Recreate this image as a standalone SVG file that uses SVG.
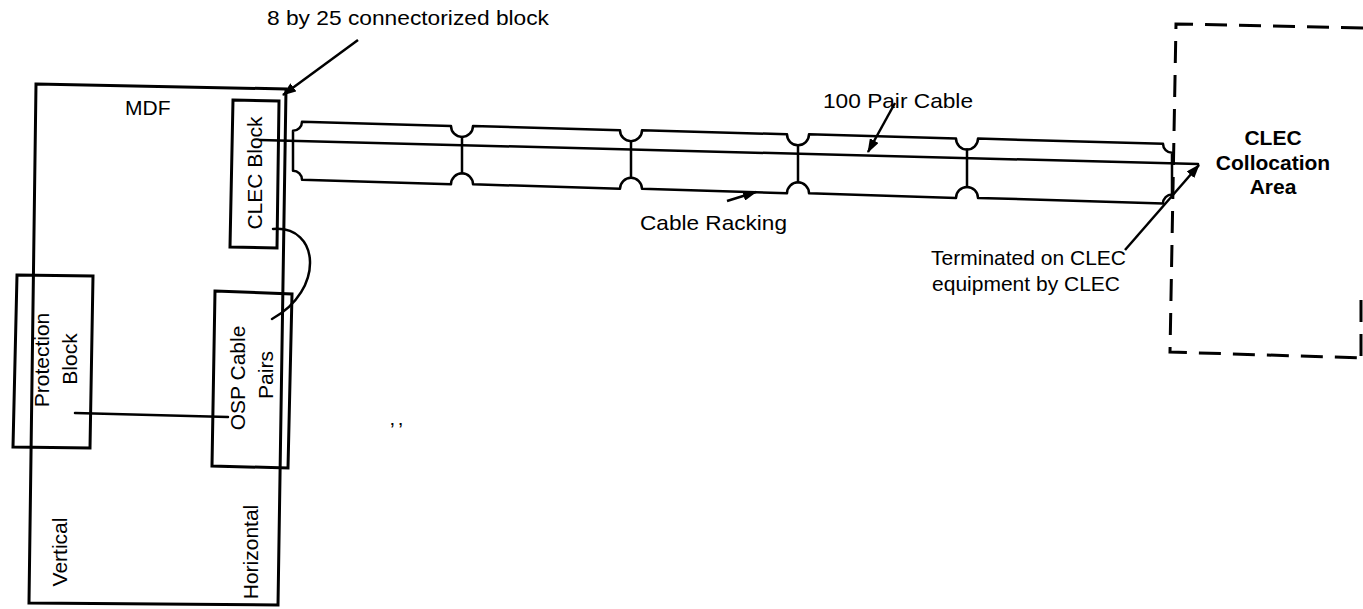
<svg xmlns="http://www.w3.org/2000/svg" width="1363" height="609" viewBox="0 0 1363 609">
<defs>
<marker id="ah" viewBox="0 0 14 10" refX="13" refY="5" markerWidth="14" markerHeight="10" markerUnits="userSpaceOnUse" orient="auto">
<path d="M0,0 L14,5 L0,10 Z" fill="#000"/>
</marker>
<style>
.ln{fill:none;stroke:#000;stroke-width:2.5;stroke-linejoin:round;stroke-linecap:round}
.box{fill:none;stroke:#000;stroke-width:3}
.dash{fill:none;stroke:#000;stroke-width:3;stroke-dasharray:22 12}
.t{font-family:"Liberation Sans",Arial,sans-serif;font-size:21px;fill:#000}
.tb{font-family:"Liberation Sans",Arial,sans-serif;font-size:21px;font-weight:bold;fill:#000}
.arr{fill:none;stroke:#000;stroke-width:2.5;marker-end:url(#ah)}
</style>
</defs>
<rect width="1363" height="609" fill="#fff"/>

<g id="mdf">
<polygon class="box" points="36,84 286,89 278,605 29,603"/>
<text class="t" x="125" y="115" font-size="22">MDF</text>
<text class="t" transform="translate(67,552) rotate(-90)" text-anchor="middle">Vertical</text>
<text class="t" transform="translate(258,552) rotate(-90)" text-anchor="middle">Horizontal</text>
</g>

<g id="clec-block">
<polygon class="box" points="233,100 279,101 277,248 230,247"/>
<text class="t" transform="translate(262,173) rotate(-90)" text-anchor="middle">CLEC Block</text>
</g>

<g id="protection-block">
<polygon class="box" points="17,275 93,276 90,448 13,447"/>
<text class="t" transform="translate(49,360) rotate(-90)" text-anchor="middle">Protection</text>
<text class="t" transform="translate(77,359) rotate(-90)" text-anchor="middle">Block</text>
</g>

<g id="osp-cable-pairs">
<polygon class="box" points="215,291 292,294 288,468 212,466"/>
<text class="t" transform="translate(245,378) rotate(-90)" text-anchor="middle">OSP Cable</text>
<text class="t" transform="translate(273,375) rotate(-90)" text-anchor="middle">Pairs</text>
</g>

<g id="cable-racking">
<path class="ln" d="M293,130.7 A9,9 0 0 0 302,121.7 L451,125.9 A11,11 0 0 0 473,125.9 L620,130.2 A11,11 0 0 0 642,130.2 L787,134.3 A11,11 0 0 0 809,134.3 L956,138.6 A11,11 0 0 0 978,138.6 L1163,143.7 A9,9 0 0 0 1172,152.7 L1172,194.4 A9,9 0 0 0 1163,203.4 L978,197.9 A11,11 0 0 0 956,197.9 L809,193.3 A11,11 0 0 0 787,193.3 L642,188.8 A11,11 0 0 0 620,188.8 L473,184.3 A11,11 0 0 0 451,184.3 L302,179.7 A9,9 0 0 0 293,170.7 Z"/>
<path class="ln" d="M462,136.9 V173.3 M631,141.2 V177.8 M798,145.3 V182.3 M967,149.6 V186.9"/>
<text class="t" x="640" y="230" font-size="22" textLength="147" lengthAdjust="spacingAndGlyphs">Cable Racking</text>
</g>

<g id="clec-collocation-area">
<path class="dash" d="M1363,28 L1176,24 L1170,352 L1363,358"/>
<path class="dash" d="M1361,300 L1361,356"/>
<text class="tb" x="1273" y="145" text-anchor="middle">CLEC</text>
<text class="tb" x="1273" y="170" text-anchor="middle">Collocation</text>
<text class="tb" x="1273" y="194" text-anchor="middle">Area</text>
</g>

<g id="labels">
<text class="t" x="267" y="25" font-size="22" textLength="282" lengthAdjust="spacingAndGlyphs">8 by 25 connectorized block</text>
<text class="t" x="823" y="108" font-size="22" textLength="150" lengthAdjust="spacingAndGlyphs">100 Pair Cable</text>
<text class="t" x="1126" y="265" text-anchor="end">Terminated on CLEC</text>
<text class="t" x="1120" y="291" text-anchor="end">equipment by CLEC</text>
<text class="t" x="390" y="437" font-size="18" letter-spacing="4">’’</text>
</g>

<g id="connectors">
<path class="ln" d="M260,140 L1198,164"/>
<path class="ln" d="M75,413 L228,417"/>
<path class="ln" d="M273,229 C320,225 325,290 272,319"/>
<path class="arr" d="M358,40 L283,95"/>
<path class="arr" d="M895,103 L868,152"/>
<path class="arr" d="M727,201 L756,192"/>
<path class="arr" d="M1125,250 L1199,165"/>
</g>
</svg>
